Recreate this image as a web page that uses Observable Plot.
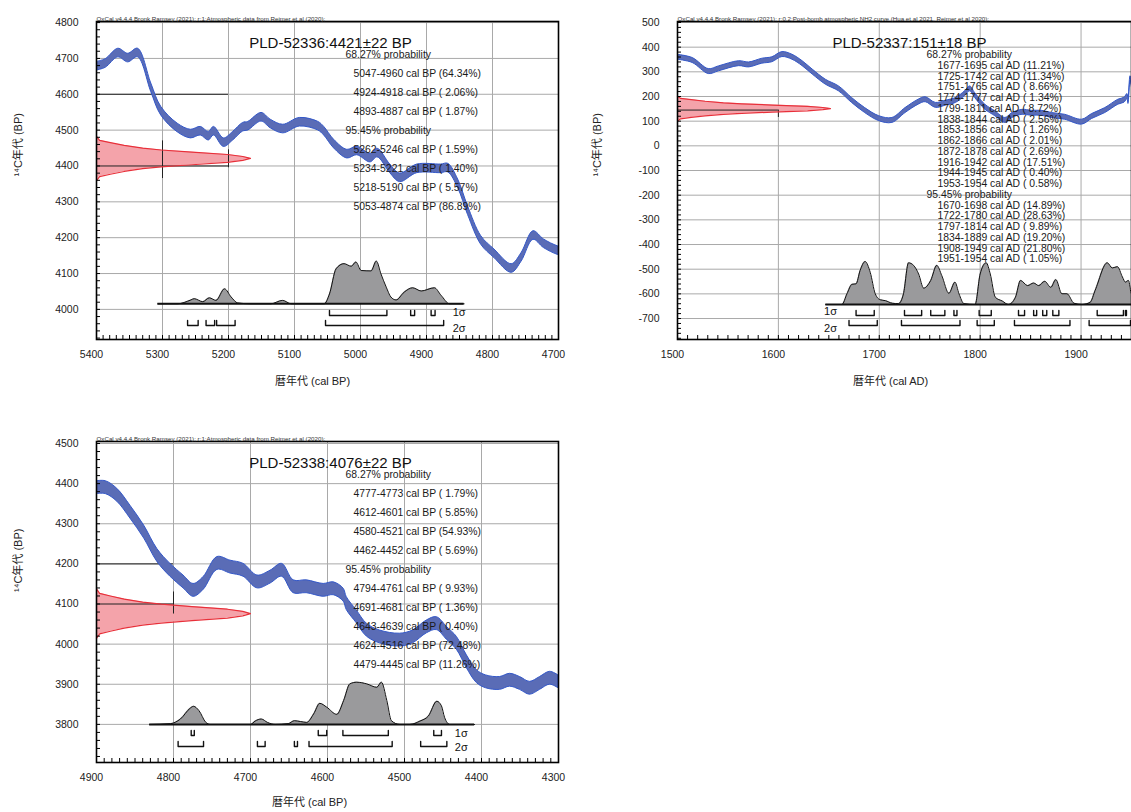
<!DOCTYPE html>
<html><head><meta charset="utf-8">
<script src="https://cdn.jsdelivr.net/npm/d3@7"></script>
<script src="https://cdn.jsdelivr.net/npm/@observablehq/plot@0.6"></script>
<style>
body{margin:0;background:#fff;}
#wrap{position:relative;width:1131px;height:812px;overflow:hidden;background:#fff;}
.p{position:absolute;}
</style></head><body><div id="wrap"></div>
<script>
// ---------- shared ----------
const redShapeZ = [-2.8,-2.3,-2.0,-1.65,-1.3,-1.07,-0.8,-0.5,-0.25,0,0.25,0.5,0.8,1.07,1.3,1.65,2.0,2.3,2.8];
const redShapeW = [0,0.02,0.09,0.18,0.3,0.42,0.62,0.85,0.95,1,0.95,0.85,0.62,0.42,0.3,0.18,0.09,0.02,0];

// ---------- panel 1 : PLD-52336 ----------
const header1 = "OxCal v4.4.4 Bronk Ramsey (2021); r:1;Atmospheric data from Reimer et al (2020);";
const title1 = "PLD-52336:4421±22 BP";
const date1 = {mean: 4421, sd: 22};
const xTicks1 = [5400,5300,5200,5100,5000,4900,4800,4700];
const yTicks1 = [4000,4100,4200,4300,4400,4500,4600,4700,4800];
const curve1 = [[5400,4678],[5386,4686],[5367,4715],[5352,4701],[5337,4715],[5317,4618],[5302,4553],[5277,4506],[5257,4489],[5242,4497],[5230,4483],[5222,4497],[5207,4465],[5193,4483],[5178,4508],[5170,4511],[5150,4536],[5136,4517],[5117,4503],[5092,4522],[5064,4511],[5055,4497],[5040,4461],[5020,4433],[5005,4442],[4985,4422],[4974,4436],[4955,4392],[4940,4367],[4914,4392],[4878,4392],[4867,4394],[4852,4350],[4837,4275],[4817,4192],[4797,4155],[4771,4114],[4756,4145],[4738,4206],[4722,4183],[4701,4164],[4690,4160]];
const curveErr1 = 12;
const dist1 = [[5307,0],[5277,0],[5257,0.09],[5252,0.12],[5239,0.05],[5229,0.14],[5219,0.08],[5206,0.35],[5196,0.16],[5186,0.02],[5166,0],[5136,0],[5118,0.08],[5105,0],[5055,0],[5047,0.23],[5037,0.82],[5025,0.94],[5014,0.88],[5007,0.98],[4999,0.78],[4984,0.77],[4976,1.0],[4969,0.70],[4961,0.39],[4954,0.16],[4946,0.09],[4934,0.27],[4921,0.375],[4908,0.30],[4888,0.375],[4878,0.2],[4865,0],[4843,0]];
const sig1_1 = [[5047,4960],[4924,4918],[4893,4887]];
const sig2_1 = [[5262,5246],[5234,5221],[5218,5190],[5053,4874]];
const lines1 = ["68.27% probability","5047-4960 cal BP (64.34%)","4924-4918 cal BP ( 2.06%)","4893-4887 cal BP ( 1.87%)","95.45% probability","5262-5246 cal BP ( 1.59%)","5234-5221 cal BP ( 1.40%)","5218-5190 cal BP ( 5.57%)","5053-4874 cal BP (86.89%)"];
const dark1H = [{y:4600,x1:5400,x2:5200},{y:4400,x1:5400,x2:5200}];
const dark1V = [{x:5300,y1:4365,y2:4470},{x:5200,y1:4395,y2:4445}];

// ---------- panel 2 : PLD-52337 ----------
const header2 = "OxCal v4.4.4 Bronk Ramsey (2021); r:0.2;Post-bomb atmospheric NH2 curve (Hua et al 2021, Reimer et al 2020);";
const title2 = "PLD-52337:151±18 BP";
const date2 = {mean: 151, sd: 18};
const xTicks2 = [1500,1600,1700,1800,1900];
const yTicks2 = [-700,-600,-500,-400,-300,-200,-100,0,100,200,300,400,500];
const curve2 = [[1500,359],[1515,346],[1531,301],[1541,312],[1561,333],[1571,328],[1584,343],[1594,349],[1604,370],[1614,359],[1624,333],[1634,299],[1647,258],[1660,231],[1673,184],[1686,143],[1700,110],[1713,103],[1726,143],[1739,177],[1746,187],[1756,164],[1766,173],[1776,184],[1785,211],[1790,231],[1795,204],[1805,157],[1815,130],[1825,103],[1832,123],[1842,136],[1851,132],[1861,132],[1871,123],[1884,116],[1901,96],[1911,119],[1924,143],[1937,177],[1943,185],[1946,200],[1947,180],[1949,272],[1951,230]];
const curveErr2 = 10;
const dist2 = [[1647,0],[1663,0],[1668,0.25],[1673,0.47],[1677,0.48],[1681,0.79],[1686,1.0],[1691,0.75],[1696,0.25],[1701,0.11],[1706,0.09],[1713,0.03],[1719,0.02],[1724,0.25],[1729,0.97],[1734,0.91],[1739,0.71],[1744,0.38],[1751,0.56],[1757,0.91],[1762,0.67],[1769,0.26],[1775,0.52],[1779,0.25],[1784,0.02],[1795,0],[1800,0.71],[1806,0.97],[1810,0.71],[1815,0.17],[1822,0.08],[1828,0],[1835,0.17],[1840,0.56],[1847,0.44],[1853,0.5],[1858,0.44],[1864,0.54],[1870,0.4],[1875,0.58],[1881,0.25],[1886,0.25],[1893,0.03],[1901,0],[1909,0.05],[1914,0.33],[1926,0.97],[1931,0.85],[1936,0.88],[1941,0.64],[1944,0.52],[1947,0.56],[1950,0.25],[1953,0.3]];
const sig1_2 = [[1677,1695],[1725,1742],[1751,1765],[1774,1777],[1799,1811],[1838,1844],[1853,1856],[1862,1866],[1872,1878],[1916,1942],[1944,1945],[1953,1954]];
const sig2_2 = [[1670,1698],[1722,1780],[1797,1814],[1834,1889],[1908,1949],[1951,1954]];
const lines2 = ["68.27% probability","1677-1695 cal AD (11.21%)","1725-1742 cal AD (11.34%)","1751-1765 cal AD ( 8.66%)","1774-1777 cal AD ( 1.34%)","1799-1811 cal AD ( 8.72%)","1838-1844 cal AD ( 2.56%)","1853-1856 cal AD ( 1.26%)","1862-1866 cal AD ( 2.01%)","1872-1878 cal AD ( 2.69%)","1916-1942 cal AD (17.51%)","1944-1945 cal AD ( 0.40%)","1953-1954 cal AD ( 0.58%)","95.45% probability","1670-1698 cal AD (14.89%)","1722-1780 cal AD (28.63%)","1797-1814 cal AD ( 9.89%)","1834-1889 cal AD (19.20%)","1908-1949 cal AD (21.80%)","1951-1954 cal AD ( 1.05%)"];
const dark2H = [{y:145,x1:1500,x2:1600}];
const dark2V = [{x:1600,y1:115,y2:145}];

// ---------- panel 3 : PLD-52338 ----------
const header3 = "OxCal v4.4.4 Bronk Ramsey (2021); r:1;Atmospheric data from Reimer et al (2020);";
const title3 = "PLD-52338:4076±22 BP";
const date3 = {mean: 4076, sd: 22};
const xTicks3 = [4900,4800,4700,4600,4500,4400,4300];
const yTicks3 = [3800,3900,4000,4100,4200,4300,4400,4500];
const curve3 = [[4900,4390],[4888,4390],[4873,4371],[4856,4329],[4838,4279],[4821,4221],[4804,4184],[4787,4155],[4774,4134],[4761,4151],[4743,4201],[4726,4192],[4709,4184],[4691,4155],[4674,4167],[4659,4184],[4644,4143],[4627,4143],[4605,4134],[4592,4138],[4579,4122],[4575,4101],[4562,4068],[4549,4035],[4532,4018],[4506,4010],[4489,4018],[4471,4043],[4458,4051],[4445,4027],[4432,4002],[4419,3956],[4406,3919],[4394,3906],[4376,3902],[4363,3910],[4350,3902],[4337,3890],[4324,3902],[4311,3915],[4300,3906]];
const curveErr3 = 16;
const dist3 = [[4831,0],[4804,0.02],[4791,0.13],[4778,0.39],[4774,0.43],[4767,0.33],[4758,0.05],[4752,0],[4700,0],[4694,0.08],[4686,0.13],[4678,0.05],[4668,0],[4651,0.02],[4643,0.09],[4635,0.07],[4627,0.05],[4618,0.25],[4610,0.5],[4601,0.41],[4588,0.24],[4579,0.57],[4571,0.96],[4562,1.0],[4549,0.96],[4536,0.88],[4530,1.0],[4523,0.57],[4517,0.09],[4506,0],[4493,0],[4480,0.08],[4469,0.2],[4458,0.55],[4452,0.44],[4448,0.17],[4441,0],[4409,0]];
const sig1_3 = [[4777,4773],[4612,4601],[4580,4521],[4462,4452]];
const sig2_3 = [[4794,4761],[4691,4681],[4643,4639],[4624,4516],[4479,4445]];
const lines3 = ["68.27% probability","4777-4773 cal BP ( 1.79%)","4612-4601 cal BP ( 5.85%)","4580-4521 cal BP (54.93%)","4462-4452 cal BP ( 5.69%)","95.45% probability","4794-4761 cal BP ( 9.93%)","4691-4681 cal BP ( 1.36%)","4643-4639 cal BP ( 0.40%)","4624-4516 cal BP (72.48%)","4479-4445 cal BP (11.26%)"];
const dark3H = [{y:4200,x1:4900,x2:4800},{y:4100,x1:4900,x2:4800}];
const dark3V = [{x:4800,y1:4075,y2:4130}];

const yLabel = "¹⁴C年代 (BP)";
const FONT = "'Liberation Sans', Arial, 'Noto Sans CJK JP', sans-serif";

function makePanel(c) {
  const fw = c.width - c.mL - c.mR, fh = c.height - c.mT - c.mB;
  const [x0, x1] = c.xDomain, [y0, y1] = c.yDomain;
  const ux = (x1 - x0) / fw;           // data per px along x (signed)
  const uy = (y1 - y0) / fh;           // data per px upward
  const xAt = px => x0 + px * ux;      // px from frame left
  const yAt = px => y1 - px * uy;      // px from frame top
  const base = yAt(c.baseline);

  const red = redShapeZ.map((z, i) => ({y: c.date.mean + z * c.date.sd, x: x0 + redShapeW[i] * c.redPx * ux}));
  const distPts = c.dist.map(([yr, p]) => ({x: yr, y: base + p * c.distPx * uy}));
  const distStart = c.dist[0][0], distEnd = c.dist[c.dist.length - 1][0];

  const br = [];
  const addBr = (ranges, top, bot, tag) => ranges.forEach(([a, b], i) => {
    const id = tag + i;
    br.push({id, x: a, y: yAt(top)}, {id, x: a, y: yAt(bot)}, {id, x: b, y: yAt(bot)}, {id, x: b, y: yAt(top)});
  });
  addBr(c.sig1, c.row1[0], c.row1[1], "a");
  addBr(c.sig2, c.row2[0], c.row2[1], "b");

  const txt = c.lines.map((t, i) => ({
    t, x: xAt(t.includes("probability") ? c.textDx[0] : c.textDx[1]), y: yAt(c.textDy + i * c.textStep)
  }));

  const xMinor = d3.range(Math.min(x0, x1), Math.max(x0, x1) + 0.1, 10);
  const yMinor = d3.range(Math.ceil(y0 / 20) * 20, y1 + 0.1, 20);

  const plot = Plot.plot({
    width: c.width, height: c.height,
    marginLeft: c.mL, marginRight: c.mR, marginTop: c.mT, marginBottom: c.mB,
    x: {domain: c.xDomain, axis: null},
    y: {domain: c.yDomain, axis: null},
    style: {fontFamily: FONT, background: "white", overflow: "visible", color: "#111"},
    marks: [
      Plot.ruleX(c.xTicks, {stroke: "#a9a9a9", strokeWidth: 1}),
      Plot.ruleY(c.yTicks, {stroke: "#a9a9a9", strokeWidth: 1}),
      Plot.areaX(red, {y: "y", x1: () => x0, x2: "x", fill: "#f4a3aa", fillOpacity: 1}),
      Plot.ruleY(c.darkH, {y: "y", x1: "x1", x2: "x2", stroke: "#222", strokeWidth: 1}),
      Plot.ruleX(c.darkV, {x: "x", y1: "y1", y2: "y2", stroke: "#222", strokeWidth: 1}),
      Plot.line(red, {x: "x", y: "y", stroke: "#e8303a", strokeWidth: 1.2}),
      Plot.areaY(c.curve, {x: d => d[0], y1: d => d[1] - c.err, y2: d => d[1] + c.err, fill: "#5a6cb6", stroke: "#3458c8", strokeWidth: 1, curve: "catmull-rom", clip: true}),
      Plot.areaY(distPts, {x: "x", y1: () => base, y2: "y", fill: "#9a9a9c", curve: "monotone-x", clip: true}),
      Plot.line(distPts, {x: "x", y: "y", stroke: "#111", strokeWidth: 1, curve: "monotone-x", clip: true}),
      Plot.ruleY([base], {x1: distStart, x2: distEnd, stroke: "#111", strokeWidth: 2, clip: true}),
      Plot.line(br, {x: "x", y: "y", z: "id", stroke: "#111", strokeWidth: 1.4, clip: true}),
      Plot.text(["1σ", "2σ"], {
        x: () => c.sigX, y: (d, i) => yAt(i === 0 ? c.sigY[0] : c.sigY[1]),
        text: d => d, dx: c.sigDx, textAnchor: c.sigAnchor, fontSize: 11, fill: "#111"
      }),
      Plot.text([c.title], {frameAnchor: "top-left", dx: c.titleDx, dy: c.titleDy, textAnchor: "middle", fontSize: 15, fill: "#111", text: d => d}),
      Plot.text(txt, {x: "x", y: "y", text: "t", textAnchor: "start", fontSize: 10.4, fill: "#1a1a1a"}),
      Plot.ruleX(xMinor, {y1: () => y0, y2: () => y0 + 4 * uy, stroke: "#000", strokeWidth: 1}),
      Plot.ruleY(yMinor, {x1: () => x0, x2: () => x0 + 4 * ux, stroke: "#000", strokeWidth: 1}),
      Plot.frame({stroke: "#000", strokeWidth: 1.6}),
      Plot.text(c.xTicks, {x: d => d, frameAnchor: "bottom", dy: 18, dx: -5, text: d => String(d), fontSize: 10.5, fill: "#222"}),
      Plot.text(c.yTicks, {y: d => d, frameAnchor: "left", dx: -18, textAnchor: "end", text: d => String(d), fontSize: 10.5, fill: "#222"}),
      Plot.text([c.header], {frameAnchor: "top-left", dy: -5, textAnchor: "start", fontSize: 6.2, fill: "#333", text: d => d}),
      Plot.text([c.xLabel], {frameAnchor: "bottom", dy: c.xLabDy, dx: c.xLabDx, fontSize: 11, fill: "#222", text: d => d}),
      Plot.text([yLabel], {frameAnchor: "left", dx: c.yLabDx, dy: c.yLabDy, rotate: -90, fontSize: 11, fill: "#222", text: d => d})
    ]
  });
  const div = document.createElement("div");
  div.className = "p";
  div.style.left = c.left + "px";
  div.style.top = c.top + "px";
  div.appendChild(plot);
  document.getElementById("wrap").appendChild(div);
}

makePanel({
  left: 0, top: 0, width: 560, height: 400, mL: 96, mR: 2, mT: 21, mB: 61,
  xDomain: [5400, 4700], yDomain: [3916, 4803], xTicks: xTicks1, yTicks: yTicks1,
  curve: curve1, err: curveErr1, date: date1, redPx: 154, dist: dist1, distPx: 42.7, baseline: 282.3,
  sig1: sig1_1, sig2: sig2_1, row1: [289, 294], row2: [299, 304],
  sigX: 4874, sigDx: 9, sigAnchor: "start", sigY: [291, 307],
  lines: lines1, textDx: [249, 257], textDy: 33.3, textStep: 19,
  title: title1, titleDx: 234, titleDy: 15.7, header: header1,
  darkH: dark1H, darkV: dark1V,
  xLabel: "暦年代 (cal BP)", xLabDx: -15, xLabDy: 45, yLabDx: -78, yLabDy: -4
});
makePanel({
  left: 581, top: 0, width: 550, height: 400, mL: 96, mR: 0, mT: 21, mB: 61,
  xDomain: [1500, 1950], yDomain: [-785, 504], xTicks: xTicks2, yTicks: yTicks2,
  curve: curve2, err: curveErr2, date: date2, redPx: 153, dist: dist2, distPx: 43, baseline: 283,
  sig1: sig1_2, sig2: sig2_2, row1: [289, 294], row2: [299, 304],
  sigX: 1670, sigDx: -12, sigAnchor: "end", sigY: [290, 307],
  lines: lines2, textDx: [249, 260], textDy: 33.3, textStep: 10.75,
  title: title2, titleDx: 232, titleDy: 15.7, header: header2,
  darkH: dark2H, darkV: dark2V,
  xLabel: "暦年代 (cal AD)", xLabDx: -14, xLabDy: 45, yLabDx: -80, yLabDy: -4
});
makePanel({
  left: 0, top: 420, width: 560, height: 392, mL: 96, mR: 2, mT: 21, mB: 50,
  xDomain: [4900, 4300], yDomain: [3705, 4505], xTicks: xTicks3, yTicks: yTicks3,
  curve: curve3, err: curveErr3, date: date3, redPx: 154, dist: dist3, distPx: 42.3, baseline: 283,
  sig1: sig1_3, sig2: sig2_3, row1: [289, 294], row2: [300, 305],
  sigX: 4445, sigDx: 8, sigAnchor: "start", sigY: [292, 306],
  lines: lines3, textDx: [249, 257], textDy: 33.3, textStep: 19,
  title: title3, titleDx: 234, titleDy: 15.7, header: header3,
  darkH: dark3H, darkV: dark3V,
  xLabel: "暦年代 (cal BP)", xLabDx: -18, xLabDy: 43, yLabDx: -78, yLabDy: -10
});
</script></body></html>
